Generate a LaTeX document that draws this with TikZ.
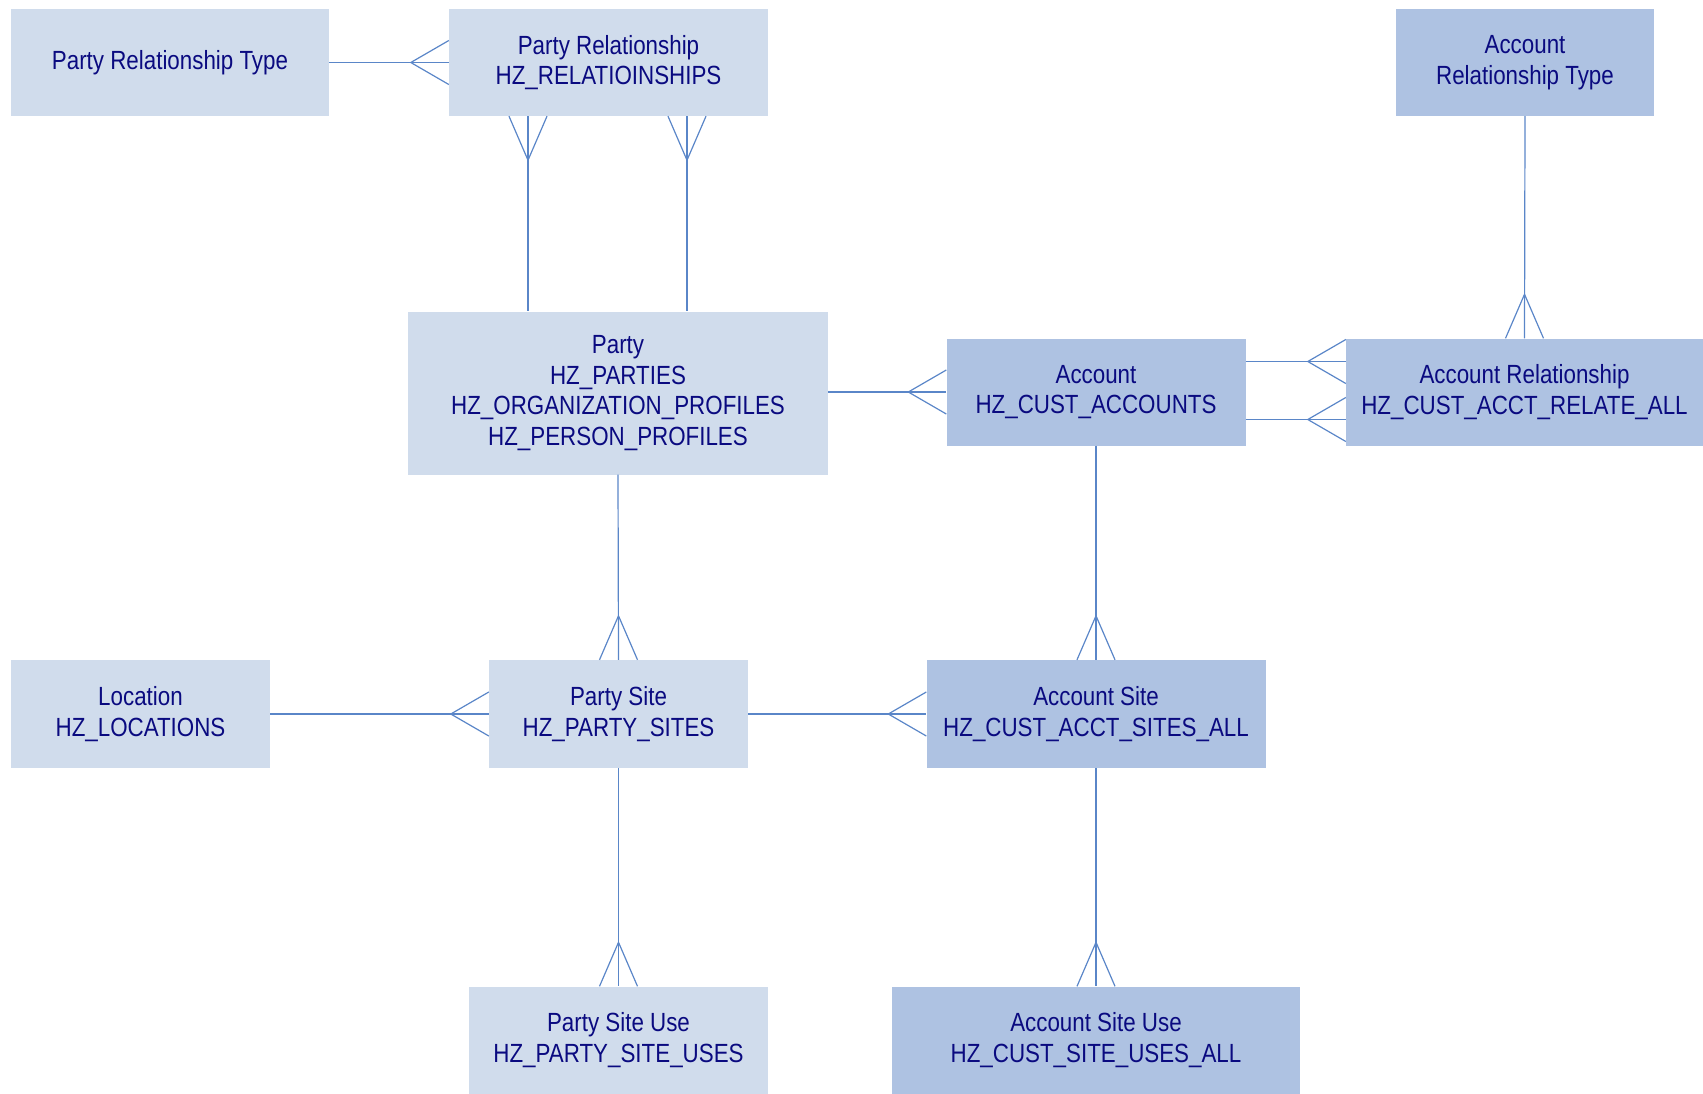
\documentclass[tikz,border=0pt]{standalone}
\usepackage{fontspec}
\setmainfont{Liberation Sans}[FakeStretch=0.85]
\usetikzlibrary{calc}
\definecolor{lightfill}{HTML}{D0DCEC}
\definecolor{darkfill}{HTML}{AEC2E2}
\definecolor{txt}{HTML}{0A0A80}
\definecolor{lnc}{HTML}{5A86C8}
\newcommand{\cfW}[1]{\draw[conn] ($(#1)+(-38,0)$) -- ($(#1)+(0,-22)$) ($(#1)+(-38,0)$) -- ($(#1)+(0,22)$);}
\newcommand{\cfN}[1]{\draw[conn] ($(#1)+(0,-44)$) -- ($(#1)+(-19,0)$) ($(#1)+(0,-44)$) -- ($(#1)+(19,0)$);}
\newcommand{\cfS}[1]{\draw[conn] ($(#1)+(0,44)$) -- ($(#1)+(-19,0)$) ($(#1)+(0,44)$) -- ($(#1)+(19,0)$);}
\begin{document}
\begin{tikzpicture}[x=1pt,y=-1pt,
  ent/.style={inner sep=0pt, align=center, text=txt, font=\fontsize{26.3}{30.8}\selectfont},
  lt/.style={ent, fill=lightfill},
  dk/.style={ent, fill=darkfill},
  conn/.style={draw=lnc, line width=1.2pt}]
\useasboundingbox (0,0) rectangle (1703,1093);
\node[lt, minimum width=318, minimum height=107] (prt) at (170,62.5) {Party Relationship Type};
\node[lt, minimum width=319, minimum height=107] (pr) at (608.5,62.5) {Party Relationship\\HZ\_RELATIOINSHIPS};
\node[dk, minimum width=258, minimum height=107] (art) at (1525,62.5) {Account\\Relationship Type};
\node[lt, minimum width=420, minimum height=163] (party) at (618,393) {Party\\HZ\_PARTIES\\HZ\_ORGANIZATION\_PROFILES\\HZ\_PERSON\_PROFILES};
\node[dk, minimum width=299, minimum height=107] (acct) at (1096,392) {Account\\HZ\_CUST\_ACCOUNTS};
\node[dk, minimum width=357, minimum height=107] (ar) at (1524.5,392) {Account Relationship\\HZ\_CUST\_ACCT\_RELATE\_ALL};
\node[lt, minimum width=259, minimum height=108] (loc) at (140.5,714) {Location\\HZ\_LOCATIONS};
\node[lt, minimum width=259, minimum height=108] (ps) at (618.5,714) {Party Site\\HZ\_PARTY\_SITES};
\node[dk, minimum width=339, minimum height=108] (asite) at (1096,714) {Account Site\\HZ\_CUST\_ACCT\_SITES\_ALL};
\node[lt, minimum width=299, minimum height=107] (psu) at (618.5,1040) {Party Site Use\\HZ\_PARTY\_SITE\_USES};
\node[dk, minimum width=408, minimum height=107] (asu) at (1096,1040) {Account Site Use\\HZ\_CUST\_SITE\_USES\_ALL};

\draw[conn] (prt.east) -- (pr.west); \cfW{pr.west}
\coordinate (prA) at ([xshift=-80.5]pr.south);
\coordinate (prB) at ([xshift=78.5]pr.south);
\draw[conn] (prA) -- (prA |- party.north); \cfS{prA}
\draw[conn] (prB) -- (prB |- party.north); \cfS{prB}
\draw[conn] (acct.west -| party.east) -- (acct.west); \cfW{acct.west}
\coordinate (arA) at ([yshift=30.5]ar.west);
\coordinate (arB) at ([yshift=-27.5]ar.west);
\draw[conn] (arA -| acct.east) -- (arA); \cfW{arA}
\draw[conn] (arB -| acct.east) -- (arB); \cfW{arB}
\draw[conn] (art.south) -- (ar.north); \cfN{ar.north}
\draw[conn] (party.south) -- (ps.north); \cfN{ps.north}
\draw[conn] (acct.south) -- (asite.north); \cfN{asite.north}
\draw[conn] (loc.east) -- (ps.west); \cfW{ps.west}
\draw[conn] (ps.east) -- (asite.west); \cfW{asite.west}
\draw[conn] (ps.south) -- (psu.north); \cfN{psu.north}
\draw[conn] (asite.south) -- (asu.north); \cfN{asu.north}
\end{tikzpicture}
\end{document}
